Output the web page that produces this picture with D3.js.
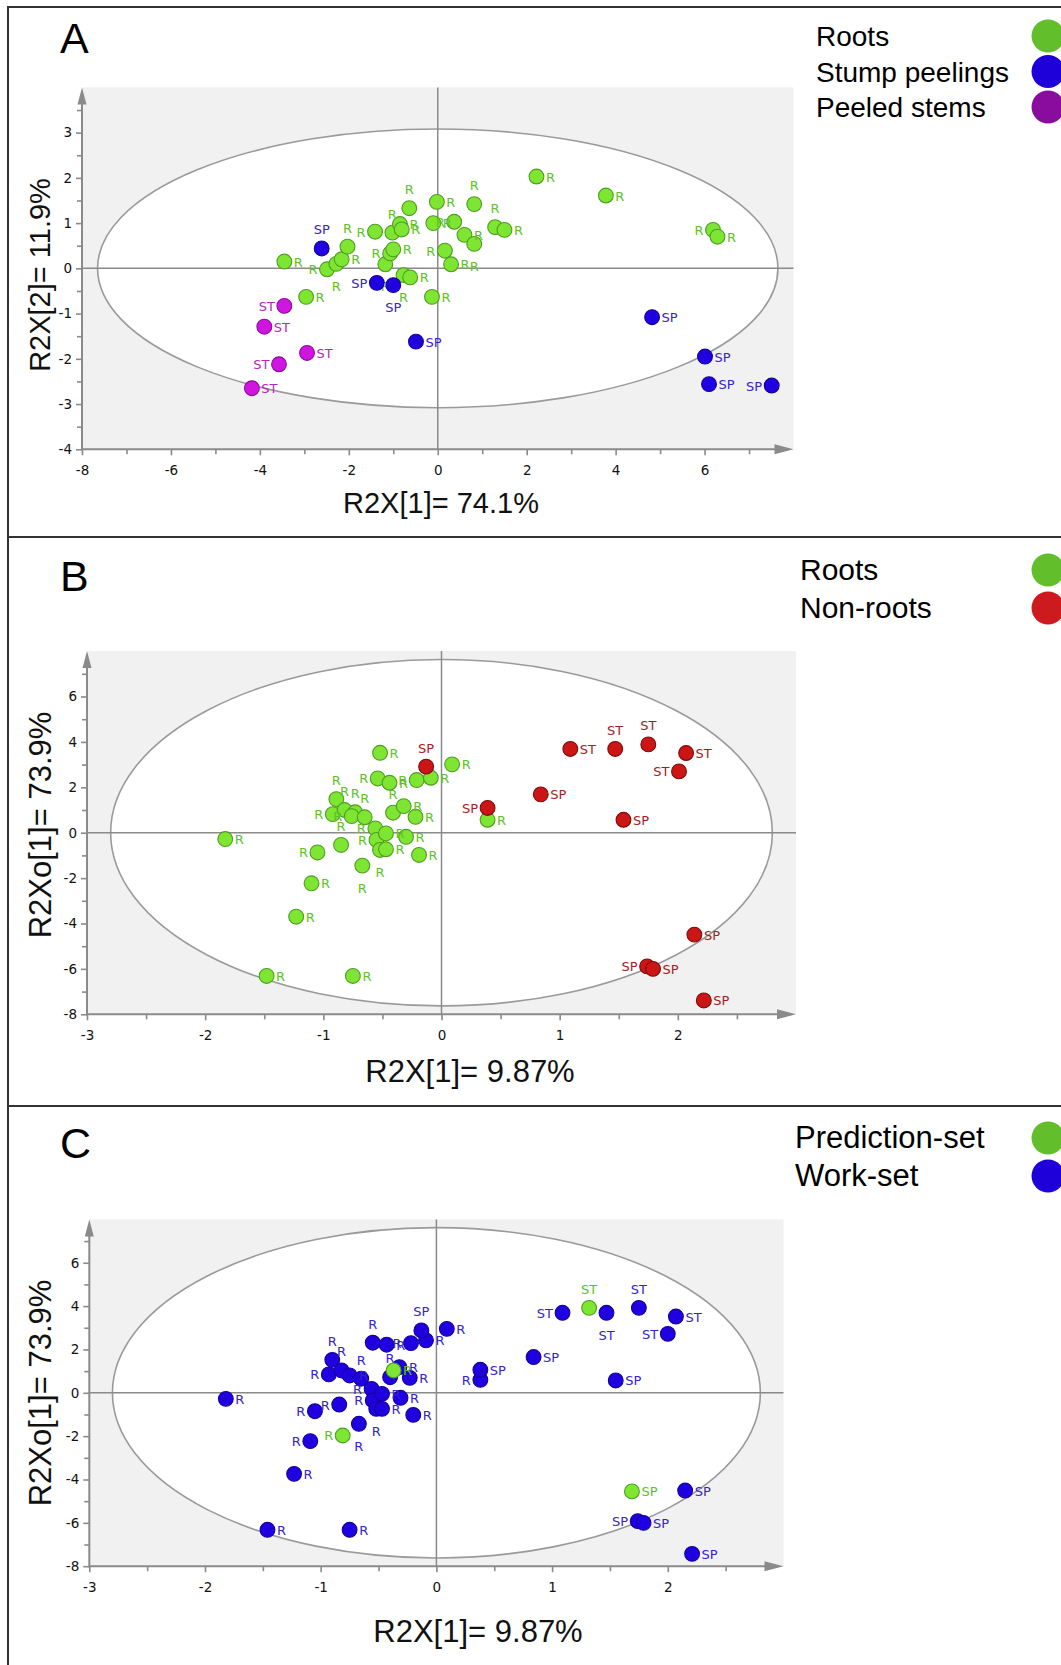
<!DOCTYPE html>
<html lang="en">

<head>
  <meta charset="UTF-8" />
  <script src="https://d3js.org/d3.v7.min.js"></script>
  <style>
    body {
      margin: 0;
      background-color: #fff;
      overflow: hidden;
    }

    svg {
      display: block;
    }
  </style>
</head>

<body>
  <svg></svg>

  <script>
    // ---- data ----
    // panel A: PCA scores t[1] / t[2]
    const aRoots = [
      [-3.45, 0.15, "R"], [-2.96, -0.63, "R"], [-2.49, -0.02, "R"], [-2.28, 0.10, "R"], [-2.16, 0.20, "R"],
      [-2.03, 0.48, "R"], [-1.41, 0.81, "R"], [-1.02, 0.79, "R"], [-0.85, 0.98, "R"], [-0.81, 0.86, "R"],
      [-0.64, 1.33, "R"], [-1.18, 0.09, "R"], [-1.07, 0.33, "R"], [-1.00, 0.42, "R"], [-0.77, -0.15, "R"],
      [-0.62, -0.20, "R"], [-0.13, -0.63, "R"], [-0.02, 1.47, "R"], [-0.10, 1.00, "R"], [0.16, 0.39, "R"],
      [0.30, 0.09, "R"], [0.37, 1.03, "R"], [0.82, 1.42, "R"], [0.60, 0.74, "R"], [0.82, 0.54, "R"],
      [1.29, 0.91, "R"], [1.50, 0.85, "R"], [2.22, 2.03, "R"], [3.78, 1.61, "R"], [6.19, 0.85, "R"],
      [6.29, 0.70, "R"]
    ];
    const aRootsSide = "rrlbrtltrrtblrbrrrrlrltrbtrrrlr";
    const aStump = [
      [-2.61, 0.44, "SP"], [-1.37, -0.32, "SP"], [-1.00, -0.37, "SP"], [-0.49, -1.62, "SP"],
      [4.82, -1.08, "SP"], [6.01, -1.95, "SP"], [6.10, -2.56, "SP"], [7.51, -2.59, "SP"]
    ];
    const aStumpSide = "tlbrrrrl";
    const aStems = [
      [-3.45, -0.83, "ST"], [-3.90, -1.29, "ST"], [-2.94, -1.87, "ST"], [-3.57, -2.12, "ST"], [-4.18, -2.65, "ST"]
    ];
    const aStemsSide = "lrrlr";

    // panel B: OPLS-DA t[1] / to[1]
    const bRoots = [
      [-1.83, -0.28, "R"], [-1.48, -6.31, "R"], [-0.75, -6.31, "R"], [-1.23, -3.70, "R"], [-1.10, -2.23, "R"],
      [-1.05, -0.87, "R"], [-0.85, -0.54, "R"], [-0.67, -1.45, "R"], [-0.52, 3.52, "R"], [-0.54, 2.39, "R"],
      [-0.44, 2.20, "R"], [-0.21, 2.32, "R"], [-0.09, 2.42, "R"], [0.09, 3.01, "R"], [-0.89, 1.48, "R"],
      [-0.92, 0.82, "R"], [-0.82, 1.00, "R"], [-0.73, 0.90, "R"], [-0.76, 0.73, "R"], [-0.65, 0.68, "R"],
      [-0.56, 0.19, "R"], [-0.55, -0.32, "R"], [-0.47, -0.03, "R"], [-0.52, -0.76, "R"], [-0.47, -0.73, "R"],
      [-0.41, 0.88, "R"], [-0.32, 1.17, "R"], [-0.22, 0.70, "R"], [-0.30, -0.18, "R"], [-0.19, -0.98, "R"],
      [0.39, 0.57, "R"]
    ];
    const bRootsSide = "rrrrrltbrlrlrrtlttltllrbrtrrrrr";
    const bNonRoots = [
      [-0.13, 2.91, "SP"], [0.39, 1.09, "SP"], [0.84, 1.69, "SP"], [1.54, 0.57, "SP"],
      [1.09, 3.69, "ST"], [1.47, 3.69, "ST"], [1.75, 3.89, "ST"], [2.07, 3.51, "ST"], [2.01, 2.70, "ST"],
      [2.14, -4.49, "SP"], [1.74, -5.89, "SP"], [1.79, -6.00, "SP"], [2.22, -7.39, "SP"]
    ];
    const bNonRootsSide = "tlrrrttrlrlrr";

    // panel C: same model, work-set vs prediction-set
    const cWork = [
      [-1.82, -0.28, "R"], [-1.46, -6.32, "R"], [-0.75, -6.32, "R"], [-1.23, -3.74, "R"], [-1.09, -2.23, "R"],
      [-1.05, -0.85, "R"], [-0.84, -0.54, "R"], [-0.67, -1.43, "R"], [-0.55, 2.31, "R"], [-0.43, 2.22, "R"],
      [-0.22, 2.29, "R"], [-0.09, 2.42, "R"], [0.09, 2.95, "R"], [-0.90, 1.52, "R"], [-0.93, 0.85, "R"],
      [-0.82, 1.03, "R"], [-0.75, 0.80, "R"], [-0.65, 0.65, "R"], [-0.56, 0.18, "R"], [-0.55, -0.35, "R"],
      [-0.47, -0.05, "R"], [-0.52, -0.74, "R"], [-0.47, -0.74, "R"], [-0.40, 0.72, "R"], [-0.32, 1.18, "R"],
      [-0.23, 0.69, "R"], [-0.31, -0.23, "R"], [-0.20, -1.02, "R"], [0.38, 0.60, "R"],
      [-0.13, 2.88, "SP"], [0.38, 1.06, "SP"], [0.84, 1.65, "SP"], [1.55, 0.57, "SP"], [2.15, -4.51, "SP"],
      [1.74, -5.92, "SP"], [1.79, -6.00, "SP"], [2.21, -7.43, "SP"],
      [1.09, 3.69, "ST"], [1.47, 3.69, "ST"], [1.75, 3.92, "ST"], [2.07, 3.52, "ST"], [2.00, 2.72, "ST"]
    ];
    const cWorkSide = "rrrrlllbtrlrrtltrtllrbrtrrrrltrrrrlrrlbtrl";
    const cPred = [
      [-0.81, -1.97, "R"], [-0.37, 1.03, "R"], [1.32, 3.92, "ST"], [1.69, -4.55, "SP"]
    ];
    const cPredSide = "lrtr";

    // axes
    const aXDomain = [-8, 8];
    const aYDomain = [-4, 4];
    const aXTicks = [-8, -6, -4, -2, 0, 2, 4, 6];
    const aXMinor = [-7, -5, -3, -1, 1, 3, 5, 7];
    const aYTicks = [-4, -3, -2, -1, 0, 1, 2, 3];
    const aYMinor = [-3.5, -2.5, -1.5, -0.5, 0.5, 1.5, 2.5, 3.5];
    const bcXDomain = [-3, 3];
    const bcYDomain = [-8, 8];
    const bcXTicks = [-3, -2, -1, 0, 1, 2];
    const bcXMinor = [-2.5, -1.5, -0.5, 0.5, 1.5, 2.5];
    const bcYTicks = [-8, -6, -4, -2, 0, 2, 4, 6];
    const bcYMinor = [-7, -5, -3, -1, 1, 3, 5, 7];

    // Hotelling T2 ellipse radii (x, y)
    const aEllipse = [7.65, 3.08];
    const bEllipse = [2.80, 7.63];
    const cEllipse = [2.80, 7.62];

    const aLegend = ["Roots", "Stump peelings", "Peeled stems"];
    const bLegend = ["Roots", "Non-roots"];
    const cLegend = ["Prediction-set", "Work-set"];

    // ---- drawing ----
    const width = 1061;
    const height = 1665;
    const svg = d3.select("svg").attr("width", width).attr("height", height);

    const GREEN = { fill: "#7ee632", stroke: "#4d9e1f", text: "#5cc324" };
    const BLUE = { fill: "#2000e0", stroke: "#12009a", text: "#3424cc" };
    const MAGENTA = { fill: "#d015e0", stroke: "#8c0c9c", text: "#b626c0" };
    const RED = { fill: "#cc1616", stroke: "#7e0a0a", text: "#a51c1c" };
    const AXIS = "#8a8a8a";

    // panel frames
    svg.append("g").selectAll("line")
      .data([7, 537, 1106])
      .join("line")
      .attr("x1", 7).attr("x2", width)
      .attr("y1", d => d).attr("y2", d => d)
      .attr("stroke", "#333").attr("stroke-width", 2);
    svg.append("line")
      .attr("x1", 8).attr("x2", 8).attr("y1", 6).attr("y2", height)
      .attr("stroke", "#333").attr("stroke-width", 2);

    function drawPanel(p) {
      const g = svg.append("g");
      const x = d3.scaleLinear().domain(p.xDomain).range(p.xRange);
      const y = d3.scaleLinear().domain(p.yDomain).range(p.yRange);
      const left = p.xRange[0], right = p.xRange[1];
      const bottom = p.yRange[0], top = p.yRange[1];

      g.append("rect")
        .attr("x", left).attr("y", top)
        .attr("width", right - left).attr("height", bottom - top)
        .attr("fill", "#f1f1f1");

      g.append("ellipse")
        .attr("cx", x(0)).attr("cy", y(0))
        .attr("rx", x(p.ellipse[0]) - x(0))
        .attr("ry", y(0) - y(p.ellipse[1]))
        .attr("fill", "#fff")
        .attr("stroke", "#9a9a9a")
        .attr("stroke-width", 1.6);

      // zero lines
      g.append("line")
        .attr("x1", left).attr("x2", right)
        .attr("y1", y(0)).attr("y2", y(0))
        .attr("stroke", AXIS).attr("stroke-width", 1.5);
      g.append("line")
        .attr("x1", x(0)).attr("x2", x(0))
        .attr("y1", top).attr("y2", bottom)
        .attr("stroke", AXIS).attr("stroke-width", 1.5);

      // axes with arrows
      const fmt = d => String(d);
      const xAxis = g.append("g").attr("transform", `translate(0,${bottom})`)
        .call(d3.axisBottom(x).tickValues(p.xTicks).tickSize(6).tickSizeOuter(0).tickFormat(fmt));
      const xMinor = g.append("g").attr("transform", `translate(0,${bottom})`)
        .call(d3.axisBottom(x).tickValues(p.xMinor).tickSize(5).tickSizeOuter(0).tickFormat(""));
      const yAxis = g.append("g").attr("transform", `translate(${left},0)`)
        .call(d3.axisLeft(y).tickValues(p.yTicks).tickSize(6).tickSizeOuter(0).tickFormat(fmt));
      const yMinor = g.append("g").attr("transform", `translate(${left},0)`)
        .call(d3.axisLeft(y).tickValues(p.yMinor).tickSize(5).tickSizeOuter(0).tickFormat(""));

      [xAxis, xMinor, yAxis, yMinor].forEach(a => {
        a.select(".domain").remove();
        a.selectAll(".tick line").attr("stroke", AXIS).attr("stroke-width", 1.6);
        a.selectAll(".tick text")
          .attr("fill", "#111")
          .style("font-family", "'DejaVu Sans', Verdana, sans-serif")
          .style("font-size", "13.5px");
      });
      xAxis.selectAll(".tick text").attr("y", 16);
      yAxis.selectAll(".tick text").attr("x", -10);

      g.append("line")
        .attr("x1", left).attr("x2", right - 14)
        .attr("y1", bottom).attr("y2", bottom)
        .attr("stroke", AXIS).attr("stroke-width", 2);
      g.append("path")
        .attr("d", `M${right},${bottom} L${right - 19},${bottom - 5} L${right - 19},${bottom + 5} Z`)
        .attr("fill", AXIS);
      g.append("line")
        .attr("x1", left).attr("x2", left)
        .attr("y1", bottom + 1).attr("y2", top + 12)
        .attr("stroke", AXIS).attr("stroke-width", 2);
      g.append("path")
        .attr("d", `M${left},${top} L${left - 4.5},${top + 17} L${left + 4.5},${top + 17} Z`)
        .attr("fill", AXIS);

      // points + labels
      p.series.forEach(s => {
        const sg = g.append("g");
        sg.selectAll("circle")
          .data(s.data)
          .join("circle")
          .attr("cx", d => x(d[0]))
          .attr("cy", d => y(d[1]))
          .attr("r", 7.4)
          .attr("fill", s.color.fill)
          .attr("stroke", s.color.stroke)
          .attr("stroke-width", 1.1);
        sg.selectAll("text")
          .data(s.data)
          .join("text")
          .attr("x", (d, i) => {
            const side = s.side[i];
            return x(d[0]) + (side === "r" ? 9.5 : side === "l" ? -9.5 : 0);
          })
          .attr("y", (d, i) => {
            const side = s.side[i];
            return y(d[1]) + (side === "t" ? -14 : side === "b" ? 27 : 5);
          })
          .attr("text-anchor", (d, i) => {
            const side = s.side[i];
            return side === "r" ? "start" : side === "l" ? "end" : "middle";
          })
          .attr("fill", s.color.text)
          .style("font-family", "'DejaVu Sans', Verdana, sans-serif")
          .style("font-size", "13px")
          .text(d => d[2]);
      });

      // titles
      g.append("text")
        .attr("x", p.xTitlePos[0]).attr("y", p.xTitlePos[1])
        .attr("text-anchor", "middle")
        .attr("fill", "#111")
        .style("font-family", "'Liberation Sans', Arial, sans-serif")
        .style("font-size", p.titleSize + "px")
        .text(p.xTitle);
      g.append("text")
        .attr("transform", `translate(${p.yTitlePos[0]},${p.yTitlePos[1]}) rotate(-90)`)
        .attr("text-anchor", "middle")
        .attr("fill", "#111")
        .style("font-family", "'Liberation Sans', Arial, sans-serif")
        .style("font-size", p.titleSize + "px")
        .text(p.yTitle);

      // panel letter
      g.append("text")
        .attr("x", 60).attr("y", p.letterY)
        .attr("fill", "#000")
        .style("font-family", "'Liberation Sans', Arial, sans-serif")
        .style("font-size", "43px")
        .text(p.letter);

      // legend
      const lg = g.append("g");
      lg.selectAll("text")
        .data(p.legend)
        .join("text")
        .attr("x", p.legendX)
        .attr("y", (d, i) => p.legendY + i * p.legendStep)
        .attr("fill", "#000")
        .style("font-family", "'Liberation Sans', Arial, sans-serif")
        .style("font-size", p.legendSize + "px")
        .text(d => d);
      lg.selectAll("circle")
        .data(p.legendColors)
        .join("circle")
        .attr("cx", 1048)
        .attr("cy", (d, i) => p.legendY - 10 + i * p.legendStep)
        .attr("r", 16.5)
        .attr("fill", d => d);
    }

    drawPanel({
      letter: "A", letterY: 53,
      xDomain: aXDomain, yDomain: aYDomain,
      xRange: [82, 793.5], yRange: [449.3, 87.4],
      xTicks: aXTicks, xMinor: aXMinor, yTicks: aYTicks, yMinor: aYMinor,
      ellipse: aEllipse,
      series: [
        { data: aRoots, side: aRootsSide, color: GREEN },
        { data: aStump, side: aStumpSide, color: BLUE },
        { data: aStems, side: aStemsSide, color: MAGENTA }
      ],
      xTitle: "R2X[1]= 74.1%", yTitle: "R2X[2]= 11.9%", titleSize: 29,
      xTitlePos: [441, 513], yTitlePos: [50, 275],
      legend: aLegend, legendColors: ["#62be2b", "#1e00d8", "#8a0c9e"],
      legendX: 816, legendY: 46, legendStep: 35.5, legendSize: 28
    });

    drawPanel({
      letter: "B", letterY: 591,
      xDomain: bcXDomain, yDomain: bcYDomain,
      xRange: [87, 796], yRange: [1014.3, 651.1],
      xTicks: bcXTicks, xMinor: bcXMinor, yTicks: bcYTicks, yMinor: bcYMinor,
      ellipse: bEllipse,
      series: [
        { data: bRoots, side: bRootsSide, color: GREEN },
        { data: bNonRoots, side: bNonRootsSide, color: RED }
      ],
      xTitle: "R2X[1]= 9.87%", yTitle: "R2Xo[1]= 73.9%", titleSize: 31,
      xTitlePos: [470, 1082], yTitlePos: [51, 825],
      legend: bLegend, legendColors: ["#62be2b", "#cc1a1e"],
      legendX: 800, legendY: 580, legendStep: 38, legendSize: 30
    });

    drawPanel({
      letter: "C", letterY: 1158,
      xDomain: bcXDomain, yDomain: bcYDomain,
      xRange: [89.3, 783.5], yRange: [1566.2, 1219.4],
      xTicks: bcXTicks, xMinor: bcXMinor, yTicks: bcYTicks, yMinor: bcYMinor,
      ellipse: cEllipse,
      series: [
        { data: cWork, side: cWorkSide, color: BLUE },
        { data: cPred, side: cPredSide, color: GREEN }
      ],
      xTitle: "R2X[1]= 9.87%", yTitle: "R2Xo[1]= 73.9%", titleSize: 31,
      xTitlePos: [478, 1642], yTitlePos: [51, 1393],
      legend: cLegend, legendColors: ["#62be2b", "#1e00d8"],
      legendX: 795, legendY: 1148, legendStep: 38, legendSize: 31
    });
  </script>
</body>

</html>
